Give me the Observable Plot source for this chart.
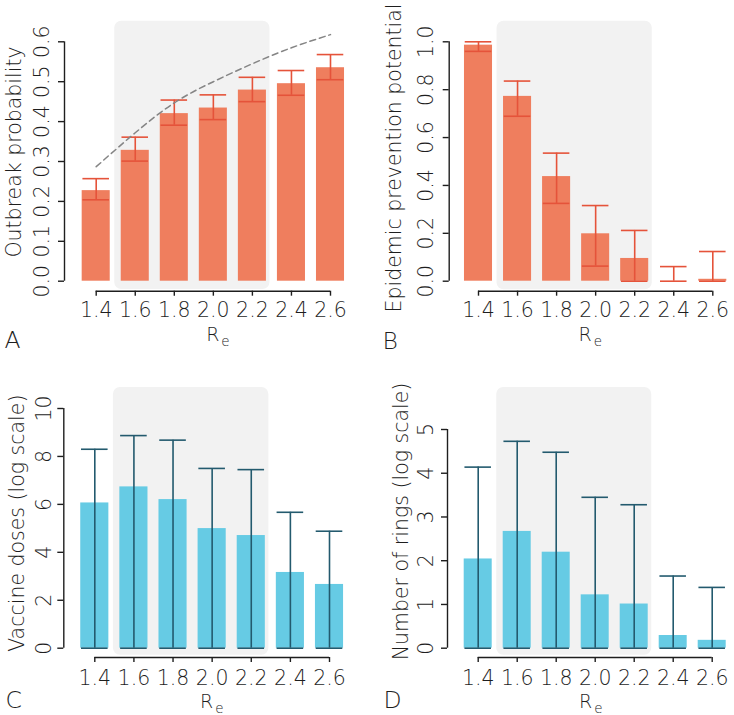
<!DOCTYPE html>
<html>
<head>
<meta charset="utf-8">
<script src="https://cdn.jsdelivr.net/npm/d3@7"></script>
<script src="https://cdn.jsdelivr.net/npm/@observablehq/plot@0.6"></script>
<style>
  html, body { margin: 0; padding: 0; background: #fff; }
  #chart { position: relative; width: 734px; height: 715px; }
  #chart svg { position: absolute; }
</style>
</head>
<body>
<div id="chart"></div>
<script>
// ---- data ----
const Re = [1.4, 1.6, 1.8, 2.0, 2.2, 2.4, 2.6];
const highlightRe = [1.495, 2.29];

const outbreakTicks = [0, 0.1, 0.2, 0.3, 0.4, 0.5, 0.6];
const outbreakProb = [0.227, 0.328, 0.420, 0.434, 0.479, 0.495, 0.535];
const outbreakLo   = [0.204, 0.301, 0.391, 0.405, 0.450, 0.466, 0.505];
const outbreakHi   = [0.257, 0.361, 0.454, 0.467, 0.511, 0.528, 0.568];
const outbreakTheory = [0.287, 0.372, 0.447, 0.500, 0.545, 0.585, 0.618];

const preventionTicks = [0, 0.2, 0.4, 0.6, 0.8, 1.0];
const prevention   = [0.986, 0.772, 0.437, 0.198, 0.095, 0.0, 0.008];
const preventionLo = [0.960, 0.689, 0.325, 0.063, 0.0, 0.0, 0.0];
const preventionHi = [1.0, 0.836, 0.535, 0.316, 0.212, 0.061, 0.124];

const dosesTicks = [0, 2, 4, 6, 8, 10];
const doses   = [6.06, 6.73, 6.20, 4.99, 4.70, 3.16, 2.66];
const dosesLo = [0, 0, 0, 0, 0, 0, 0];
const dosesHi = [8.30, 8.87, 8.68, 7.50, 7.45, 5.67, 4.88];

const ringsTicks = [0, 1, 2, 3, 4, 5];
const rings   = [2.04, 2.67, 2.195, 1.22, 1.01, 0.29, 0.18];
const ringsLo = [0, 0, 0, 0, 0, 0, 0];
const ringsHi = [4.14, 4.73, 4.48, 3.45, 3.28, 1.65, 1.39];

// ---- styling ----
const FONT = "'DejaVu Sans', 'Liberation Sans', sans-serif";
const WEIGHT = 200;
const INK = "#1e1e1e";
const ORANGE = "#ef7e5e", RED = "#e5533a";
const BLUE = "#66cbe4", TEAL = "#235a6e";
const GRAY = "#f2f2f2";

function panel(cfg) {
  const data = Re.map((R, i) => ({R, v: cfg.values[i], lo: cfg.lo[i], hi: cfg.hi[i]}));
  const H = cfg.H, W = 367;
  const ticks = cfg.ticks;
  const midR = (Re[0] + Re[Re.length - 1]) / 2;
  const frameMidY = (cfg.grayTop + cfg.xAxisY) / 2;
  const marks = [
    Plot.rect([highlightRe], {x1: d => d[0], x2: d => d[1], fill: GRAY, rx: 7,
      insetBottom: cfg.xAxisY - cfg.grayBottom}),
    Plot.rect(data, {x1: d => d.R - 0.1, x2: d => d.R + 0.1, y1: ticks[0], y2: "v",
      insetLeft: 5.5, insetRight: 5.5, fill: cfg.fill}),
    Plot.ruleX(data, {x: "R", y1: "lo", y2: "hi", stroke: cfg.whisker, strokeWidth: 1.6}),
    Plot.ruleY(data, {y: "hi", x1: d => d.R - 0.068, x2: d => d.R + 0.068, stroke: cfg.whisker, strokeWidth: 1.6}),
    Plot.ruleY(data, {y: "lo", x1: d => d.R - 0.068, x2: d => d.R + 0.068, stroke: cfg.whisker, strokeWidth: 1.6}),
  ];
  if (cfg.theory) {
    marks.push(Plot.line(Re.map((R, i) => ({R, t: cfg.theory[i]})), {
      x: "R", y: "t", curve: "natural", stroke: "#858585", strokeWidth: 1.5, strokeDasharray: "6,4"}));
  }
  marks.push(
    // y axis line & ticks
    Plot.ruleX([Re[0]], {x: d => d, y1: ticks[0], y2: ticks[ticks.length - 1],
      dx: cfg.axisX - cfg.xRange[0], stroke: INK, strokeWidth: 1.4}),
    Plot.axisY({ticks, tickSize: 6, tickRotate: -90, tickPadding: cfg.axisX - 6 - cfg.yLabBase,
      tickFormat: cfg.fmt, label: null, stroke: INK, strokeWidth: 1.4, fill: INK, fontWeight: WEIGHT}),
    // x axis line & ticks
    Plot.ruleY([ticks[0]], {y: d => d, x1: Re[0], x2: Re[Re.length - 1],
      dy: cfg.xAxisY - cfg.y0, stroke: INK, strokeWidth: 1.4}),
    Plot.axisX({ticks: Re, tickSize: 5, tickPadding: cfg.xLabTop - cfg.xAxisY - 5,
      tickFormat: d => d.toFixed(1), label: null, stroke: INK, strokeWidth: 1.4, fill: INK, fontWeight: WEIGHT}),
    // y title
    Plot.text([cfg.title], {text: d => d, frameAnchor: "left", rotate: -90,
      textAnchor: "middle", lineAnchor: "bottom",
      dx: cfg.titleBase - cfg.axisX, dy: cfg.titleCenter - frameMidY,
      fill: INK, fontSize: 20.5, fontWeight: WEIGHT}),
    // x title R_e
    Plot.text(["R"], {text: d => d, x: midR, frameAnchor: "bottom", textAnchor: "end", lineAnchor: "bottom",
      dx: cfg.reDx, dy: cfg.RBase - cfg.xAxisY, fill: INK, fontSize: 19, fontWeight: WEIGHT}),
    Plot.text(["e"], {text: d => d, x: midR, frameAnchor: "bottom", textAnchor: "start", lineAnchor: "bottom",
      dx: cfg.reDx + 2, dy: cfg.RBase - cfg.xAxisY + 5, fill: INK, fontSize: 13.5, fontWeight: WEIGHT}),
    // panel letter
    Plot.text([cfg.letter], {text: d => d, frameAnchor: "bottom-left", textAnchor: "start", lineAnchor: "bottom",
      dx: cfg.letterX - cfg.axisX, dy: cfg.letterBase - cfg.xAxisY, fill: INK, fontSize: 23.5, fontWeight: WEIGHT})
  );
  const svg = Plot.plot({
    width: W, height: H,
    marginLeft: cfg.axisX, marginRight: 12, marginTop: cfg.grayTop, marginBottom: H - cfg.xAxisY,
    x: {type: "linear", domain: [Re[0], Re[Re.length - 1]], range: cfg.xRange},
    y: {type: "linear", domain: [ticks[0], ticks[ticks.length - 1]], range: [cfg.y0, cfg.yTop]},
    style: {fontFamily: FONT, fontSize: "20.5px", color: INK, background: "none", overflow: "visible"},
    marks
  });
  svg.style.left = cfg.left + "px";
  svg.style.top = cfg.top + "px";
  return svg;
}

const chart = document.getElementById("chart");
chart.append(
  panel({left: 0, top: 0, H: 357, letter: "A", title: "Outbreak probability",
    ticks: outbreakTicks, values: outbreakProb, lo: outbreakLo, hi: outbreakHi, theory: outbreakTheory,
    fmt: d => d.toFixed(1), fill: ORANGE, whisker: RED,
    axisX: 64, xRange: [95.7, 330], y0: 280.7, yTop: 41.3, xAxisY: 290.7, grayTop: 20.7, grayBottom: 289,
    yLabBase: 48.3, titleBase: 20, titleCenter: 151.5, letterX: 4, letterBase: 347.3,
    RBase: 340.5, reDx: 6, xLabTop: 302.2}),
  panel({left: 367, top: 0, H: 357, letter: "B", title: "Epidemic prevention potential",
    ticks: preventionTicks, values: prevention, lo: preventionLo, hi: preventionHi,
    fmt: d => d.toFixed(1), fill: ORANGE, whisker: RED,
    axisX: 81.7, xRange: [111, 345.3], y0: 280.7, yTop: 41.3, xAxisY: 290.7, grayTop: 20.7, grayBottom: 289.3,
    yLabBase: 65, titleBase: 33.3, titleCenter: 157.5, letterX: 15, letterBase: 348,
    RBase: 340.5, reDx: -4, xLabTop: 302.2}),
  panel({left: 0, top: 357, H: 358, letter: "C", title: "Vaccine doses (log scale)",
    ticks: dosesTicks, values: doses, lo: dosesLo, hi: dosesHi,
    fmt: d => String(d), fill: BLUE, whisker: TEAL,
    axisX: 63.3, xRange: [94.3, 329], y0: 290.7, yTop: 51, xAxisY: 300, grayTop: 30, grayBottom: 297.7,
    yLabBase: 50, titleBase: 23.3, titleCenter: 165.7, letterX: 5, letterBase: 350,
    RBase: 350, reDx: 1, xLabTop: 312.5}),
  panel({left: 367, top: 357, H: 358, letter: "D", title: "Number of rings (log scale)",
    ticks: ringsTicks, values: rings, lo: ringsLo, hi: ringsHi,
    fmt: d => String(d), fill: BLUE, whisker: TEAL,
    axisX: 80, xRange: [110.7, 344.7], y0: 290.7, yTop: 72, xAxisY: 300, grayTop: 30, grayBottom: 297.7,
    yLabBase: 65, titleBase: 40, titleCenter: 164, letterX: 16, letterBase: 350,
    RBase: 350, reDx: -3, xLabTop: 312.5})
);
</script>
</body>
</html>
